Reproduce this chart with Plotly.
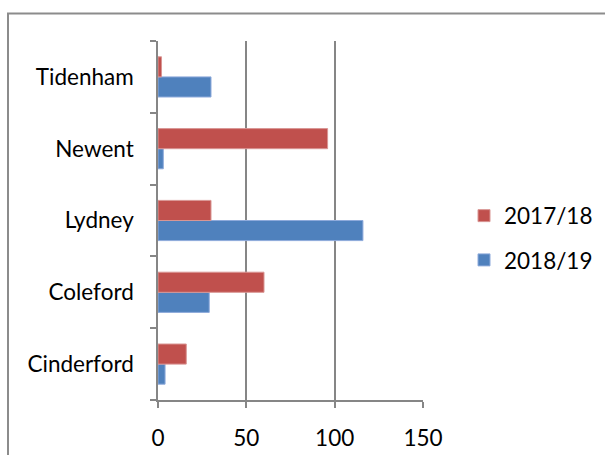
import plotly.graph_objects as go

categories = ["Cinderford", "Coleford", "Lydney", "Newent", "Tidenham"]
values_2017_18 = [16, 60, 30, 96, 2]
values_2018_19 = [4, 29, 116, 3, 30]
x_ticks = [0, 50, 100, 150]

RED = "#C0504D"
BLUE = "#4F81BD"
GRID = "#868686"
FONT = "Lato, Carlito, Calibri, sans-serif"
FS = 22.5

W, H = 605, 455
L, R, T, B = 158, 182, 41, 55
pw, ph = W - L - R, H - T - B

fig = go.Figure()
fig.add_trace(go.Bar(
    y=categories, x=values_2018_19, orientation="h", name="2018/19",
    marker=dict(color=BLUE, line=dict(color="#8EAADB", width=1)),
    legendgroup="b", legendrank=2,
))
fig.add_trace(go.Bar(
    y=categories, x=values_2017_18, orientation="h", name="2017/18",
    marker=dict(color=RED, line=dict(color="#D99694", width=1)),
    legendgroup="a", legendrank=1,
))

def px_x(p):
    return (p - L) / pw

def px_y(p):
    return (H - B - p) / ph

fig.update_layout(
    width=W, height=H,
    margin=dict(l=L, r=R, t=T, b=B, pad=0, autoexpand=False),
    paper_bgcolor="white", plot_bgcolor="white",
    barmode="group", bargap=0.44, bargroupgap=0,
    font=dict(family=FONT, size=FS, color="#000000"),
    showlegend=True,
    legend=dict(
        x=px_x(464), y=px_y(238), xanchor="left", yanchor="middle",
        traceorder="grouped", tracegroupgap=12,
        font=dict(family=FONT, size=FS), itemwidth=30,
        bgcolor="rgba(0,0,0,0)",
    ),
    xaxis=dict(
        range=[0, 150], tickvals=x_ticks, showgrid=True, gridcolor=GRID, gridwidth=1.5,
        showline=True, linecolor=GRID, linewidth=1.5,
        ticks="outside", ticklen=6, tickcolor=GRID, tickwidth=1.5,
        zeroline=False, ticklabelstandoff=11, automargin=False,
        tickfont=dict(family=FONT, size=FS),
    ),
    yaxis=dict(
        type="category", categoryorder="array", categoryarray=categories,
        showgrid=False, showline=True, linecolor=GRID, linewidth=1.5,
        ticks="outside", ticklen=6, tickcolor=GRID, tickwidth=1.5,
        tickson="boundaries", ticklabelstandoff=18, automargin=False,
        tickfont=dict(family=FONT, size=FS),
    ),
    shapes=[dict(
        type="rect", xref="paper", yref="paper",
        x0=px_x(8), x1=px_x(W + 20), y0=px_y(H + 20), y1=px_y(13.5),
        line=dict(color="#8C8C8C", width=2), fillcolor="rgba(0,0,0,0)", layer="below",
    )],
)

fig.write_html("out.html")
